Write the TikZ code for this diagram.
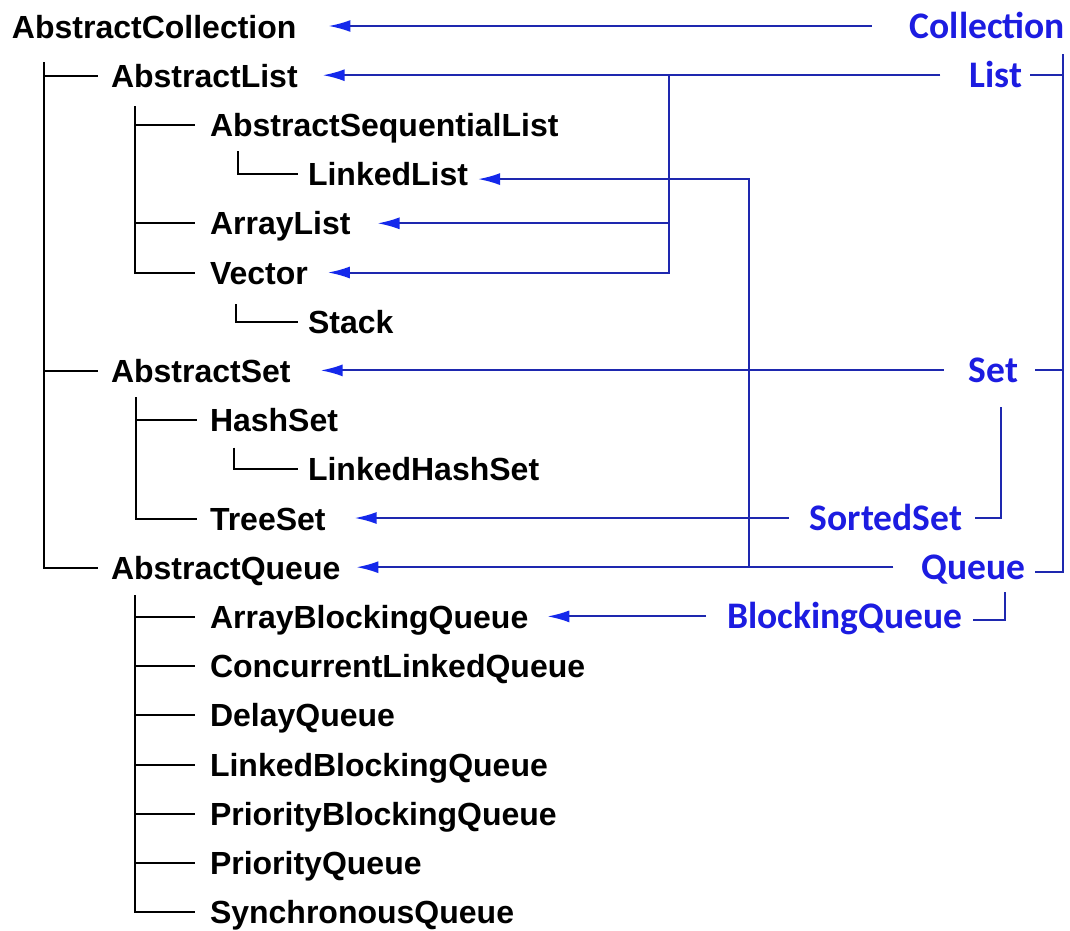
\documentclass[tikz,border=0pt]{standalone}
\usepackage{fontspec}
\setmainfont{Liberation Sans}
\newfontfamily\bluefam{Carlito}
\usetikzlibrary{arrows.meta,calc}
\definecolor{txtblue}{RGB}{28,28,225}
\definecolor{lineblue}{RGB}{30,40,175}
\definecolor{headblue}{RGB}{20,40,235}
\tikzset{
  blk/.style={anchor=base west, inner sep=0pt, outer sep=0pt, text height=23pt, text depth=0pt,
    font=\fontsize{32}{36}\selectfont\bfseries},
  lbl/.style={anchor=base east, inner sep=0pt, outer sep=0pt, text height=24pt, text depth=0pt,
    font=\fontsize{37.5}{42}\selectfont\bluefam\bfseries, text=txtblue},
  tree/.style={draw=black, line width=2pt},
  bline/.style={draw=lineblue, line width=2pt},
  arr/.style={draw=lineblue, line width=2pt, -{Latex[length=22pt,width=12pt,color=headblue]}}
}
\begin{document}
\begin{tikzpicture}[x=1pt,y=-1pt]
\fill[white] (0,0) rectangle (1070,930);
\useasboundingbox (0,0) rectangle (1070,930);

% black tree nodes
\node[blk] (AC)  at (12,38)     {AbstractCollection};
\node[blk] (AL)  at (111,87.2)  {AbstractList};
\node[blk] (ASL) at (210,136.4) {AbstractSequentialList};
\node[blk] (LL)  at (308,185.6) {LinkedList};
\node[blk] (AyL) at (210,234.8) {ArrayList};
\node[blk] (Vec) at (210,284)   {Vector};
\node[blk] (Stk) at (308,333.2) {Stack};
\node[blk] (AS)  at (111,382.4) {AbstractSet};
\node[blk] (HS)  at (210,431.6) {HashSet};
\node[blk] (LHS) at (308,480.8) {LinkedHashSet};
\node[blk] (TS)  at (210,530)   {TreeSet};
\node[blk] (AQ)  at (111,579.2) {AbstractQueue};
\node[blk] (ABQ) at (210,628.4) {ArrayBlockingQueue};
\node[blk] (CLQ) at (210,677.6) {ConcurrentLinkedQueue};
\node[blk] (DQ)  at (210,726.8) {DelayQueue};
\node[blk] (LBQ) at (210,776)   {LinkedBlockingQueue};
\node[blk] (PBQ) at (210,825.2) {PriorityBlockingQueue};
\node[blk] (PQ)  at (210,874.4) {PriorityQueue};
\node[blk] (SQ)  at (210,923.6) {SynchronousQueue};

% blue interface labels
\node[lbl] (Coll) at (1065,38)    {Collection};
\node[lbl] (List) at (1022,87.2)  {List};
\node[lbl] (Set)  at (1018,382.4) {Set};
\node[lbl] (SSet) at (962,530)    {SortedSet};
\node[lbl] (Que)  at (1025,579.2) {Queue};
\node[lbl] (BQ)   at (962,628.4)  {BlockingQueue};

% tree lines
\coordinate (t0) at ($(AC.base west)+(32,24)$);
\foreach \c in {AL,AS,AQ} \draw[tree] (t0) |- ([xshift=-13pt]\c.west);
\coordinate (t1) at ($(AL.base west)+(24,19)$);
\foreach \c in {ASL,AyL,Vec} \draw[tree] (t1) |- ([xshift=-15pt]\c.west);
\coordinate (t2) at ($(ASL.base west)+(28,15)$);
\draw[tree] (t2) |- ([xshift=-10pt]LL.west);
\coordinate (t3) at ($(Vec.base west)+(26,20)$);
\draw[tree] (t3) |- ([xshift=-10pt]Stk.west);
\coordinate (t4) at ($(AS.base west)+(25,15)$);
\foreach \c in {HS,TS} \draw[tree] (t4) |- ([xshift=-13pt]\c.west);
\coordinate (t5) at ($(HS.base west)+(24,16)$);
\draw[tree] (t5) |- ([xshift=-10pt]LHS.west);
\coordinate (t6) at ($(AQ.base west)+(24,16)$);
\foreach \c in {ABQ,CLQ,DQ,LBQ,PBQ,PQ,SQ} \draw[tree] (t6) |- ([xshift=-15pt]\c.west);

% blue arrows
\draw[arr, shorten <=38pt, shorten >=32pt] (Coll.west) -- (Coll.west -| AC.east);
\draw[arr, shorten <=29pt, shorten >=25pt] (List.west) -- (List.west -| AL.east);
\coordinate (lt) at (669,0);
\draw[arr, shorten >=27pt] (List.west -| lt) |- (AyL.east);
\draw[arr, shorten >=20pt] (List.west -| lt) |- (Vec.east);
\draw[arr, shorten <=25pt, shorten >=30pt] (Set.west) -- (Set.west -| AS.east);
\draw[arr, shorten <=21pt, shorten >=29pt] (SSet.west) -- (SSet.west -| TS.east);
\draw[arr, shorten <=28pt, shorten >=16pt] (Que.west) -- (Que.west -| AQ.east);
\coordinate (qt) at (749,0);
\draw[arr, shorten >=10pt] (Que.west -| qt) |- ([yshift=-5pt]LL.east);
\draw[arr, shorten <=21pt, shorten >=19pt] (BQ.west) -- (BQ.west -| ABQ.east);

% brackets on the right
\coordinate (rb) at (1063,54);
\draw[bline] (rb) |- ([xshift=8pt]List.east);
\draw[bline] (rb) |- ([xshift=17pt]Set.east);
\draw[bline] (rb) |- ([xshift=10pt,yshift=-5pt]Que.east);
\coordinate (sb) at (1001,407);
\draw[bline] (sb) |- ([xshift=13pt]SSet.east);
\coordinate (bb) at (1005,592);
\draw[bline] (bb) |- ([xshift=11pt,yshift=-4pt]BQ.east);
\end{tikzpicture}
\end{document}
